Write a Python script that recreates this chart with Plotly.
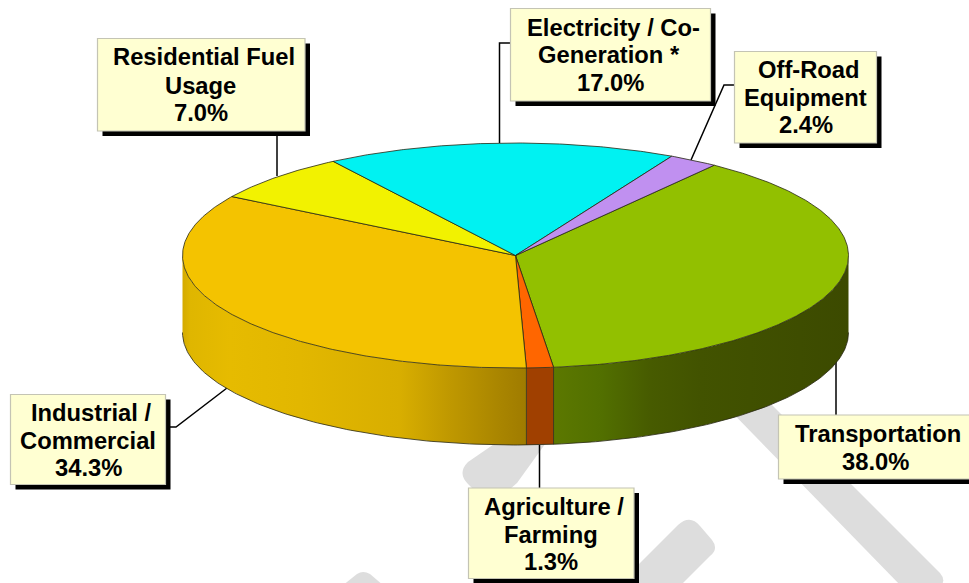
import numpy as np
import plotly.graph_objects as go

# ---- data (clockwise from the start angle) ----
categories = ["Transportation", "Agriculture / Farming", "Industrial / Commercial",
              "Residential Fuel Usage", "Electricity / Co-Generation *", "Off-Road Equipment"]
shares = [38.0, 1.3, 34.3, 7.0, 17.0, 2.4]

# ---- style and layout ----
top_colors = ["#92c000", "#ff6600", "#f4c300", "#f2f200", "#00f2f2", "#c090f0"]
START_DEG = 36.64
CX, CY, RX, RY, DEPTH = 515.5, 255.5, 333.0, 112.5, 77.0
OUTLINE = "rgba(40,40,20,0.8)"
side_stops = {
    0: ([553, 600, 650, 700, 850], ["#5c7800", "#527000", "#475b00", "#425300", "#3c4a00"]),
    1: ([526, 553], ["#a04000", "#a04000"]),
    2: ([182, 190, 230, 300, 400, 450, 500, 527],
       ["#d4aa00", "#dfb600", "#e6bb00", "#e2b700", "#d8ae00", "#bf9800", "#a98500", "#9f7b00"]),
}
callouts = [
    # line texts, line x centres, line y centres, box (x0, y0, x1, y1), leader points
    (["Residential Fuel", "Usage", "7.0%"], [204, 200.7, 200.7], [56.5, 85, 112.5],
     (97.5, 38.5, 305, 131), [(277, 136), (277, 176)]),
    (["Electricity / Co-", "Generation *", "17.0%"], [613, 609, 610], [27, 54.5, 82],
     (510.5, 8.5, 710.5, 101), [(510, 43), (499.5, 43), (499.5, 143)]),
    (["Off-Road", "Equipment", "2.4%"], [809, 805.7, 806], [69, 97, 124],
     (734.5, 51.5, 876.5, 143), [(734, 85), (724, 85), (691, 160)]),
    (["Industrial /", "Commercial", "34.3%"], [91, 87.5, 88], [412, 440, 467],
     (10.5, 394.5, 165.5, 484.5), [(170, 427), (176, 427), (227, 388)]),
    (["Agriculture /", "Farming", "1.3%"], [554, 550.7, 550.7], [506, 534, 561],
     (468.5, 488, 634, 578.5), [(539.5, 445), (539.5, 488)]),
    (["Transportation", "38.0%"], [878, 875.7], [433, 461],
     (778.5, 415, 975, 479), [(836, 360), (836, 415)]),
]
watermark_paths = [
    "M715,395 L760,393 L940,573 Q946,580 941,586 L901,586 Z",
    "M548,440 L500,440 L468,462 Q457,473 468,484 L490,506 L517,483 Z",
    "M600,603 L678,525 Q690,514 700,526 L712,540 Q719,549 710,556 L660,606 Z",
    "M342,586 L357,574 Q363,570 370,574 L384,586 Z",
]


def top_xy(deg):
    t = np.radians(deg)
    return CX + RX * np.sin(t), CY - RY * np.cos(t)


edges = START_DEG + np.concatenate([[0], np.cumsum(shares)]) * 3.6
fig = go.Figure()


def stroke(x, y, width=1.0, color=OUTLINE):
    fig.add_trace(go.Scatter(x=x, y=y, mode="lines", line=dict(color=color, width=width),
                             hoverinfo="skip", showlegend=False))


# side wall of the front half, one polygon per slice with a left-to-right gradient
for i in side_stops:
    a0, a1 = max(edges[i], 90.0), min(edges[i + 1], 270.0)
    t = np.linspace(a0, a1, 120)
    x, y = top_xy(t)
    px = np.r_[x, x[::-1], x[0]]
    py = np.r_[y, y[::-1] + DEPTH, y[0]]
    xs, cols = side_stops[i]
    span = xs[-1] - xs[0]
    scale = [[(v - xs[0]) / span, c] for v, c in zip(xs, cols)]
    fig.add_trace(go.Scatter(x=px, y=py, mode="lines", fill="toself",
                             line=dict(width=0, color="rgba(0,0,0,0)"),
                             fillgradient=dict(type="horizontal", colorscale=scale,
                                               start=xs[0], stop=xs[-1]),
                             hoverinfo="skip", showlegend=False))

# side wall outlines
arc = np.linspace(90, 270, 240)
ax, ay = top_xy(arc)
stroke(ax, ay + DEPTH, 1.0)
for i in (0, 1, 2):
    e = edges[i + 1]
    if 90 < e < 270:
        x, y = top_xy(e)
        stroke([x, x], [y, y + DEPTH], 1.0)

# top surface
for i, cat in enumerate(categories):
    t = np.linspace(edges[i], edges[i + 1], max(4, int(shares[i] * 8)))
    x, y = top_xy(t)
    fig.add_trace(go.Scatter(x=np.r_[CX, x, CX], y=np.r_[CY, y, CY], mode="lines", fill="toself",
                             fillcolor=top_colors[i], line=dict(color=OUTLINE, width=1.0),
                             hoverinfo="skip", showlegend=False, name=cat))

fig.update_xaxes(range=[0, 969], visible=False, fixedrange=True)
fig.update_yaxes(range=[583, 0], visible=False, fixedrange=True)

shapes = [dict(type="path", path=p, fillcolor="#dddddd", line=dict(width=0), layer="below")
          for p in watermark_paths]
annotations = []
for lines, xs, ys, box, leader in callouts:
    shapes.append(dict(type="path", layer="below", line=dict(color="#000000", width=1.5),
                       path="M" + " L".join(f"{a},{b}" for a, b in leader)))
    x0, y0, x1, y1 = box
    shapes.append(dict(type="rect", x0=x0 + 5, y0=y0 + 5, x1=x1 + 5, y1=y1 + 5, layer="below",
                       fillcolor="#000000", line=dict(width=0)))
    shapes.append(dict(type="rect", x0=x0, y0=y0, x1=x1, y1=y1, layer="below",
                       fillcolor="#ffffd2", line=dict(color="#c4c4b4", width=1.2)))
    for text, x, y in zip(lines, xs, ys):
        annotations.append(dict(x=x, y=y, text=text, showarrow=False, xanchor="center",
                                yanchor="middle",
                                font=dict(family="Liberation Sans, Arial, sans-serif",
                                          size=23.75, color="#000000", weight=700)))

fig.update_layout(width=969, height=583, margin=dict(l=0, r=0, t=0, b=0),
                  paper_bgcolor="#ffffff", plot_bgcolor="#ffffff",
                  showlegend=False, shapes=shapes, annotations=annotations)
fig.write_html("out.html", config={"displayModeBar": False},
               post_script="document.body.style.margin='0';document.body.style.overflow='hidden';")
